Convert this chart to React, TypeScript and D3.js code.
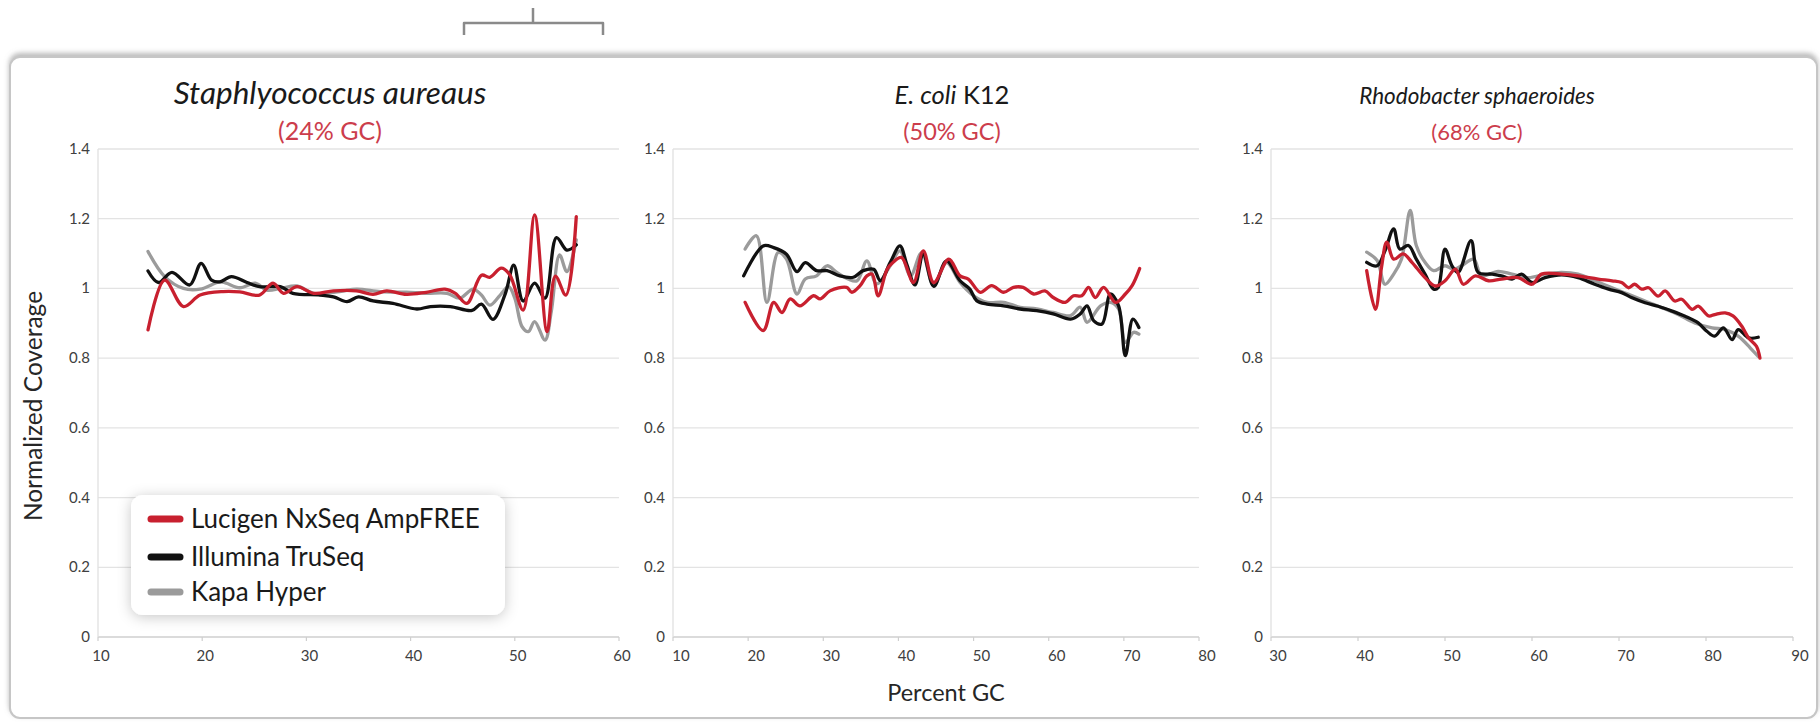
import React from 'react';
import * as d3 from 'd3';

// ---------- data ----------
const yTicks = [0, 0.2, 0.4, 0.6, 0.8, 1, 1.2, 1.4];
const staphTicks = [10, 20, 30, 40, 50, 60];
const ecoliTicks = [10, 20, 30, 40, 50, 60, 70, 80];
const rhodoTicks = [30, 40, 50, 60, 70, 80, 90];

const seriesNames = ['Lucigen NxSeq AmpFREE', 'Illumina TruSeq', 'Kapa Hyper'];
const seriesColors = ['#c8202f', '#111111', '#9b9b9b'];

const staphLucigen: [number, number][] = [[14.8,0.881],[16.4,1.024],[18.2,0.948],[19.8,0.981],[22.0,0.991],[23.6,0.990],[25.5,0.981],[26.8,1.015],[27.8,0.986],[29.1,1.005],[30.7,0.986],[32.6,0.993],[34.8,0.993],[36.4,0.983],[37.7,0.993],[39.6,0.983],[41.5,0.989],[43.3,0.998],[44.3,0.986],[45.4,0.957],[46.8,1.038],[47.6,1.032],[48.7,1.058],[49.5,1.040],[50.8,0.938],[51.9,1.211],[53.1,0.876],[53.9,1.035],[54.9,0.981],[55.9,1.206]];
const staphIllumina: [number, number][] = [[14.8,1.050],[15.8,1.017],[17.1,1.046],[18.8,1.010],[19.9,1.072],[20.9,1.024],[21.7,1.019],[22.8,1.034],[24.3,1.017],[25.5,1.005],[27.5,1.005],[28.7,0.986],[31.3,0.981],[32.6,0.976],[33.9,0.962],[35.0,0.976],[36.4,0.964],[38.3,0.957],[40.6,0.941],[41.9,0.948],[43.8,0.948],[45.9,0.937],[46.8,0.955],[47.9,0.911],[49.1,0.986],[49.9,1.067],[50.8,0.964],[51.9,1.015],[52.9,0.972],[54.0,1.146],[55.0,1.110],[55.9,1.125]];
const staphKapa: [number, number][] = [[14.8,1.106],[16.4,1.034],[18.2,1.000],[19.8,0.998],[21.7,1.019],[22.3,1.015],[23.6,1.002],[25.1,1.015],[26.2,0.995],[27.5,1.000],[29.1,1.007],[30.7,0.986],[33.2,0.991],[34.8,0.998],[37.1,0.991],[39.6,0.989],[41.5,0.986],[43.5,0.986],[44.7,0.972],[46.0,0.998],[46.8,0.981],[47.6,0.952],[48.6,0.981],[49.4,1.005],[50.0,0.972],[50.7,0.890],[51.3,0.876],[51.9,0.905],[52.9,0.852],[53.5,0.933],[54.3,1.096],[55.0,1.048],[55.9,1.139]];

const ecoliLucigen: [number, number][] = [[19.6,0.960],[22.0,0.879],[23.4,0.960],[24.5,0.931],[25.6,0.970],[26.9,0.950],[28.7,0.979],[29.6,0.970],[30.9,0.993],[33.1,1.003],[33.8,0.989],[34.9,1.008],[35.8,1.036],[36.5,1.041],[37.3,0.979],[38.5,1.055],[39.3,1.075],[40.4,1.089],[42.0,1.017],[43.3,1.108],[44.7,1.017],[46.7,1.084],[48.2,1.036],[49.3,1.027],[50.9,0.989],[52.4,1.008],[54.0,0.989],[55.3,1.003],[56.6,1.003],[58.0,0.984],[59.5,0.993],[60.6,0.974],[62.2,0.960],[63.3,0.979],[64.4,0.979],[65.3,1.003],[66.2,0.974],[67.3,1.003],[68.9,0.960],[70.2,0.984],[71.1,1.008],[72.1,1.057]];
const ecoliIllumina: [number, number][] = [[19.4,1.036],[22.0,1.122],[23.4,1.117],[25.1,1.098],[26.5,1.048],[27.6,1.074],[29.1,1.051],[30.5,1.051],[32.2,1.036],[34.0,1.032],[35.3,1.051],[36.7,1.055],[37.6,1.022],[38.9,1.074],[40.2,1.122],[41.1,1.070],[42.2,1.010],[43.3,1.098],[44.7,1.006],[46.4,1.079],[48.2,1.022],[49.5,0.998],[50.4,0.965],[51.8,0.955],[54.0,0.950],[56.2,0.941],[58.4,0.936],[60.6,0.927],[62.9,0.912],[64.2,0.927],[65.1,0.950],[66.0,0.907],[67.1,0.898],[68.2,0.984],[69.3,0.950],[70.2,0.807],[71.2,0.912],[72.0,0.888]];
const ecoliKapa: [number, number][] = [[19.6,1.113],[21.1,1.151],[22.5,0.960],[24.0,1.103],[25.1,1.084],[26.5,0.984],[27.6,1.027],[29.1,1.036],[30.5,1.065],[31.8,1.046],[33.3,1.027],[34.5,1.022],[35.8,1.079],[37.1,1.013],[38.9,1.065],[40.2,1.108],[41.6,1.036],[43.1,1.103],[44.7,1.008],[46.4,1.074],[48.2,1.017],[50.0,0.979],[51.8,0.960],[54.0,0.960],[56.2,0.946],[58.4,0.941],[60.6,0.931],[62.9,0.922],[64.2,0.946],[65.1,0.903],[66.9,0.950],[68.2,0.960],[69.3,0.941],[70.2,0.845],[71.3,0.874],[72.0,0.869]];

const rhodoLucigen: [number, number][] = [[41.0,1.051],[42.0,0.940],[42.7,1.060],[43.3,1.133],[44.1,1.084],[45.2,1.099],[46.2,1.075],[47.7,1.031],[48.9,1.007],[50.0,1.022],[51.2,1.055],[52.1,1.012],[53.5,1.036],[55.0,1.022],[56.5,1.027],[58.4,1.031],[60.0,1.012],[61.1,1.041],[63.4,1.041],[65.3,1.036],[67.6,1.027],[69.2,1.022],[70.3,1.017],[71.1,1.002],[71.8,1.012],[72.6,0.998],[73.4,1.002],[74.5,0.978],[75.3,0.993],[76.4,0.964],[77.2,0.969],[78.4,0.940],[79.1,0.949],[80.3,0.921],[81.0,0.925],[82.2,0.930],[83.1,0.921],[84.1,0.892],[84.9,0.858],[85.8,0.834],[86.2,0.800]];
const rhodoIllumina: [number, number][] = [[41.0,1.075],[42.2,1.065],[43.1,1.108],[44.1,1.171],[44.8,1.113],[45.8,1.123],[46.7,1.084],[47.7,1.041],[48.7,0.998],[49.2,1.002],[50.0,1.113],[50.8,1.065],[51.5,1.046],[53.0,1.137],[53.8,1.046],[55.4,1.041],[56.5,1.036],[57.7,1.027],[58.8,1.041],[60.0,1.017],[61.5,1.031],[63.4,1.039],[65.3,1.031],[67.2,1.012],[68.8,0.998],[70.3,0.988],[71.5,0.973],[73.0,0.959],[74.5,0.949],[76.1,0.935],[77.6,0.920],[79.1,0.901],[80.1,0.877],[81.0,0.863],[82.0,0.887],[83.0,0.853],[83.7,0.882],[84.9,0.858],[86.0,0.860]];
const rhodoKapa: [number, number][] = [[41.0,1.104],[42.2,1.080],[43.1,1.012],[44.1,1.041],[45.0,1.084],[46.0,1.224],[46.7,1.123],[47.7,1.075],[48.7,1.051],[50.0,1.065],[51.0,1.055],[51.9,1.065],[53.3,1.084],[54.2,1.036],[56.1,1.049],[57.7,1.041],[59.6,1.031],[61.5,1.041],[63.4,1.046],[65.3,1.041],[67.2,1.022],[69.2,1.002],[71.1,0.983],[73.0,0.964],[74.9,0.945],[76.8,0.925],[78.7,0.901],[80.7,0.887],[82.2,0.882],[83.7,0.863],[85.1,0.829],[86.0,0.805]];

// ---------- layout ----------
const W = 1820;
const H = 722;
const FONT = 'Lato, "Open Sans", sans-serif';
const Y_TOP = 149;
const Y_BOT = 637;

type Panel = {
  domain: [number, number];
  range: [number, number];
  ticks: number[];
  labelDx: number;
  series: [number, number][][];
  titleX: number;
  titleSize: number;
  subSize: number;
  title: React.ReactNode;
  sub: string;
};

const panels: Panel[] = [
  {
    domain: [10, 60], range: [98, 619], ticks: staphTicks, labelDx: 3,
    series: [staphKapa, staphIllumina, staphLucigen],
    titleX: 330, titleSize: 31.5, subSize: 25,
    title: <tspan fontStyle="italic">Staphlyococcus aureaus</tspan>, sub: '(24% GC)',
  },
  {
    domain: [10, 80], range: [673, 1199], ticks: ecoliTicks, labelDx: 8,
    series: [ecoliKapa, ecoliIllumina, ecoliLucigen],
    titleX: 952, titleSize: 25.5, subSize: 23.5,
    title: <><tspan fontStyle="italic">E. coli</tspan><tspan> K12</tspan></>, sub: '(50% GC)',
  },
  {
    domain: [30, 90], range: [1271, 1793], ticks: rhodoTicks, labelDx: 7,
    series: [rhodoKapa, rhodoIllumina, rhodoLucigen],
    titleX: 1477, titleSize: 22.5, subSize: 22,
    title: <tspan fontStyle="italic">Rhodobacter sphaeroides</tspan>, sub: '(68% GC)',
  },
];
// colours for drawing order (Kapa, Illumina, Lucigen)
const drawColors = [seriesColors[2], seriesColors[1], seriesColors[0]];

const y = d3.scaleLinear().domain([0, 1.4]).range([Y_BOT, Y_TOP]);

function PanelView({ p }: { p: Panel }) {
  const x = d3.scaleLinear().domain(p.domain).range(p.range);
  const line = d3
    .line<[number, number]>()
    .x((d) => x(d[0]))
    .y((d) => y(d[1]))
    .curve(d3.curveCatmullRom.alpha(0.5));
  const [x0, x1] = p.range;
  return (
    <g>
      {yTicks.map((t) => (
        <line key={'g' + t} x1={x0} x2={x1} y1={y(t)} y2={y(t)}
          stroke={t === 0 ? '#cfcfcf' : '#e3e3e3'} strokeWidth={1.3} />
      ))}
      <line x1={x0} x2={x0} y1={Y_TOP} y2={Y_BOT} stroke="#e0e0e0" strokeWidth={1.3} />
      {p.ticks.map((t) => (
        <line key={'t' + t} x1={x(t)} x2={x(t)} y1={Y_BOT} y2={Y_BOT + 4} stroke="#cfcfcf" strokeWidth={1.2} />
      ))}
      {yTicks.map((t) => (
        <text key={'yl' + t} x={x0 - 8} y={y(t) + 5} textAnchor="end" fontSize={15}
          fontFamily={FONT} fill="#404040">{String(t)}</text>
      ))}
      {p.ticks.map((t) => (
        <text key={'xl' + t} x={x(t) + p.labelDx} y={661} textAnchor="middle" fontSize={15}
          fontFamily={FONT} fill="#404040">{String(t)}</text>
      ))}
      {p.series.map((s, i) => (
        <path key={'s' + i} d={line(s) || ''} fill="none" stroke={drawColors[i]}
          strokeWidth={3.3} strokeLinejoin="round" strokeLinecap="round" />
      ))}
      <text x={p.titleX} y={104} textAnchor="middle" fontSize={p.titleSize} fontFamily={FONT} fill="#1a1a1a">
        {p.title}
      </text>
      <text x={p.titleX} y={140} textAnchor="middle" fontSize={p.subSize} fontFamily={FONT} fill="#cc3d4c">
        {p.sub}
      </text>
    </g>
  );
}

export default function App() {
  const legendRows = [519, 557, 592];
  return (
    <div style={{ position: 'absolute', left: 0, top: 0, width: W, height: H, background: '#fff' }}>
      <svg width={W} height={H} viewBox={`0 0 ${W} ${H}`} style={{ display: 'block' }}>
        <defs>
          <filter id="frameShadow" x="-5%" y="-10%" width="110%" height="120%">
            <feDropShadow dx="0" dy="-3" stdDeviation="2.5" floodColor="#8c8c8c" floodOpacity="0.6" />
          </filter>
          <filter id="legendShadow" x="-20%" y="-40%" width="140%" height="180%">
            <feDropShadow dx="0" dy="2" stdDeviation="7" floodColor="#000" floodOpacity="0.22" />
          </filter>
        </defs>
        <rect x={0} y={0} width={W} height={H} fill="#fff" />
        {/* bracket */}
        <path d="M464,35 V23 H603 V35" fill="none" stroke="#8a8a8a" strokeWidth={2.5} strokeLinejoin="round" />
        <path d="M533,23 V8" fill="none" stroke="#8a8a8a" strokeWidth={2.5} />
        {/* frame */}
        <rect x={10} y={57} width={1807} height={661} rx={10} fill="#fff" stroke="#c6c6c6"
          strokeWidth={2} filter="url(#frameShadow)" />
        {panels.map((p, i) => <PanelView key={i} p={p} />)}
        {/* axis titles */}
        <text transform="translate(42,406) rotate(-90)" textAnchor="middle" fontSize={24.5}
          fontFamily={FONT} fill="#262626">Normalized Coverage</text>
        <text x={946} y={701} textAnchor="middle" fontSize={23.5} fontFamily={FONT} fill="#262626">Percent GC</text>
        {/* legend */}
        <rect x={131} y={495} width={374} height={120} rx={12} fill="#fff" filter="url(#legendShadow)" />
        {seriesNames.map((n, i) => (
          <g key={n}>
            <line x1={151} x2={180} y1={legendRows[i]} y2={legendRows[i]} stroke={seriesColors[i]}
              strokeWidth={7} strokeLinecap="round" />
            <text x={191} y={legendRows[i] + 9} fontSize={26} fontFamily={FONT} fill="#1a1a1a">{n}</text>
          </g>
        ))}
      </svg>
    </div>
  );
}
